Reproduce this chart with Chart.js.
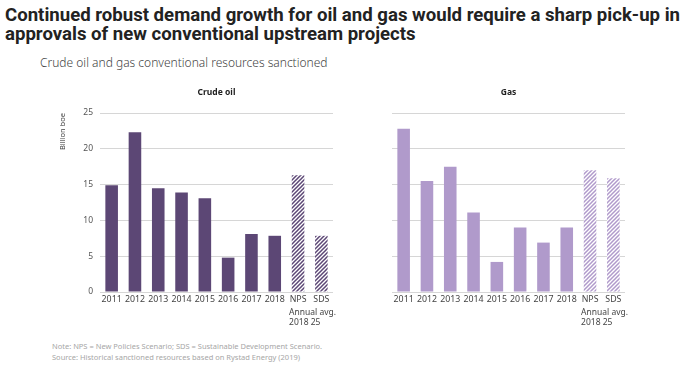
<!DOCTYPE html>
<html lang="en">
<head>
<meta charset="UTF-8">
<title>Conventional resources sanctioned</title>
<script src="https://cdn.jsdelivr.net/npm/chart.js"></script>
<style>
    body { margin: 0; width: 687px; height: 367px; background: #fff; position: relative; overflow: hidden; font-family: Roboto, sans-serif; }
    #title { position: absolute; left: 5px; top: 6px; font-size: 18.6px; font-weight: bold; line-height: 19px; color: #222; }
    #subtitle { position: absolute; left: 40px; top: 54px; font-size: 12px; color: #444; font-family: "Noto Sans", sans-serif; font-weight: 300; }
    .box { position: absolute; top: 84px; height: 250px; }
    .note { position: absolute; left: 52px; font-size: 7.5px; color: #a6a6a6; font-family: "Noto Sans", sans-serif; }
</style>
</head>
<body>
<div id="title">Continued robust demand growth for oil and gas would require a sharp pick-up in<br>approvals of new conventional upstream projects</div>
<div id="subtitle">Crude oil and gas conventional resources sanctioned</div>
<div class="box" style="left:40px;width:300px;"><canvas id="oil"></canvas></div>
<div class="box" style="left:370px;width:270px;"><canvas id="gas"></canvas></div>
<div class="note" style="top:341px;">Note: NPS = New Policies Scenario; SDS = Sustainable Development Scenario.</div>
<div class="note" style="top:352px;">Source: Historical sanctioned resources based on Rystad Energy (2019)</div>
<script>
// data
var years = ['2011', '2012', '2013', '2014', '2015', '2016', '2017', '2018', 'NPS', 'SDS'];
var crudeOil = [14.9, 22.3, 14.5, 13.9, 13.1, 4.8, 8.1, 7.85, 16.3, 7.85];
var gas = [22.8, 15.5, 17.5, 11.1, 4.2, 9.0, 6.9, 9.0, 17.0, 15.9];
var yTicks = [0, 5, 10, 15, 20, 25];

var oilColor = '#5c4775';
var gasColor = '#b09acb';

// diagonal hatch for the scenario bars
function hatch(color) {
    var c = document.createElement('canvas');
    c.width = 4; c.height = 4;
    var g = c.getContext('2d');
    g.fillStyle = '#fff';
    g.fillRect(0, 0, 4, 4);
    g.strokeStyle = color;
    g.lineWidth = 1.5;
    g.beginPath();
    g.moveTo(-1, 5); g.lineTo(5, -1);
    g.moveTo(-1, 1); g.lineTo(1, -1);
    g.moveTo(3, 5); g.lineTo(5, 3);
    g.stroke();
    return g.createPattern(c, 'repeat');
}

function colors(base) {
    var p = hatch(base);
    return years.map(function (y, i) { return i >= 8 ? p : base; });
}

// panel title centred on the plot area, plus "Annual avg. 2018 25" under NPS
var extras = {
    id: 'extras',
    afterDraw: function (chart) {
        var x = chart.scales.x;
        var area = chart.chartArea;
        var ctx = chart.ctx;
        ctx.save();
        ctx.font = 'bold 8.5px "Noto Sans"';
        ctx.fillStyle = '#222';
        ctx.textAlign = 'center';
        ctx.textBaseline = 'middle';
        ctx.fillText(chart.options.plugins.panelTitle, (area.left + area.right) / 2, 9);
        var left = x.getPixelForValue(8) - 9;
        ctx.font = '8.5px "Noto Sans"';
        ctx.fillStyle = '#444';
        ctx.textAlign = 'left';
        ctx.textBaseline = 'top';
        ctx.fillText('Annual avg.', left, x.top + 16);
        ctx.fillText('2018 25', left, x.top + 26);
        ctx.restore();
    }
};

function makeChart(id, title, data, color, showY) {
    return new Chart(document.getElementById(id), {
        type: 'bar',
        data: {
            labels: years,
            datasets: [{
                label: title,
                data: data,
                backgroundColor: colors(color),
                barPercentage: 0.54,
                categoryPercentage: 1
            }]
        },
        options: {
            responsive: true,
            maintainAspectRatio: false,
            animation: false,
            layout: { padding: { left: showY ? 18 : 0, right: showY ? 7 : 15, top: 29, bottom: 24 } },
            plugins: {
                legend: { display: false },
                tooltip: { enabled: false },
                title: { display: false },
                panelTitle: title
            },
            scales: {
                x: {
                    grid: { display: false, drawTicks: false },
                    border: { display: false },
                    ticks: { color: '#444', font: { family: 'Noto Sans', size: 8.8 }, maxRotation: 0, autoSkip: false, padding: 2 },
                    afterFit: function (s) { s.height = 18; }
                },
                y: {
                    min: 0,
                    max: 25,
                    afterBuildTicks: function (s) { s.ticks = yTicks.map(function (v) { return { value: v }; }); },
                    grid: { color: '#d6d6d6', drawTicks: false },
                    border: { display: false },
                    ticks: { display: showY, color: '#555', font: { family: 'Noto Sans', size: 8.5 }, padding: 7 },
                    title: { display: showY, text: 'Billion boe', align: 'end', color: '#444', font: { family: 'Noto Sans', size: 7.5 }, padding: 0 },
                    afterFit: function (s) { s.width = showY ? 42 : 22; }
                }
            }
        },
        plugins: [extras]
    });
}

makeChart('oil', 'Crude oil', crudeOil, oilColor, true);
makeChart('gas', 'Gas', gas, gasColor, false);
</script>
</body>
</html>
